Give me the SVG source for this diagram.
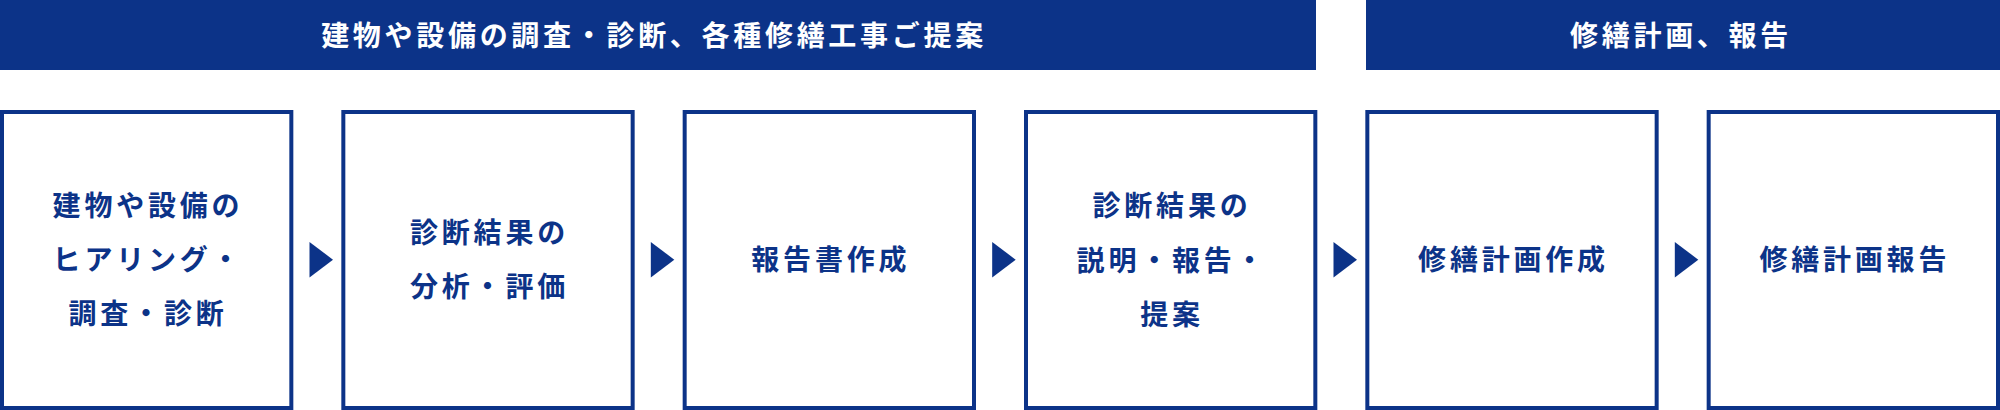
<svg xmlns="http://www.w3.org/2000/svg" width="2000" height="410" viewBox="0 0 2000 410">
<style>
.hdr{fill:#0c3388}
.box{fill:#ffffff;stroke:#0c3388;stroke-width:4}
.t{font-family:"Noto Sans CJK JP","Noto Sans CJK SC",sans-serif;font-weight:700;font-size:28px;letter-spacing:3.8px;text-anchor:middle}
.ht{fill:#ffffff;letter-spacing:3.7px}
.bt{fill:#0c3388}
.arr{fill:#0c3388}
</style>
<g id="header1">
<rect class="hdr" x="0" y="0" width="1316" height="70"/>
<text class="t ht" x="654" y="45.5">建物や設備の調査・診断、各種修繕工事ご提案</text>
</g>
<g id="header2">
<rect class="hdr" x="1366" y="0" width="634" height="70"/>
<text class="t ht" x="1681" y="45.5">修繕計画、報告</text>
</g>
<g id="step1">
<rect class="box" x="2" y="112" width="289.33" height="296"/>
<text class="t bt" x="148" y="215.5">建物や設備の</text>
<text class="t bt" x="148" y="269.5">ヒアリング・</text>
<text class="t bt" x="148" y="323.5">調査・診断</text>
</g>
<g id="step2">
<rect class="box" x="343.33" y="112" width="289.33" height="296"/>
<text class="t bt" x="489.5" y="243">診断結果の</text>
<text class="t bt" x="489.5" y="297">分析・評価</text>
</g>
<g id="step3">
<rect class="box" x="684.67" y="112" width="289.33" height="296"/>
<text class="t bt" x="830.8" y="270">報告書作成</text>
</g>
<g id="step4">
<rect class="box" x="1026" y="112" width="289.33" height="296"/>
<text class="t bt" x="1172" y="216">診断結果の</text>
<text class="t bt" x="1172" y="270.5">説明・報告・</text>
<text class="t bt" x="1172" y="324.5">提案</text>
</g>
<g id="step5">
<rect class="box" x="1367.33" y="112" width="289.33" height="296"/>
<text class="t bt" x="1513.5" y="270">修繕計画作成</text>
</g>
<g id="step6">
<rect class="box" x="1708.67" y="112" width="289.33" height="296"/>
<text class="t bt" x="1854.8" y="270">修繕計画報告</text>
</g>
<g id="connectors">
<polygon class="arr" points="309.5,242 309.5,277.4 333,259.7"/>
<polygon class="arr" points="650.8,242 650.8,277.4 674.3,259.7"/>
<polygon class="arr" points="992.2,242 992.2,277.4 1015.7,259.7"/>
<polygon class="arr" points="1333.5,242 1333.5,277.4 1357,259.7"/>
<polygon class="arr" points="1674.8,242 1674.8,277.4 1698.3,259.7"/>
</g>
</svg>
